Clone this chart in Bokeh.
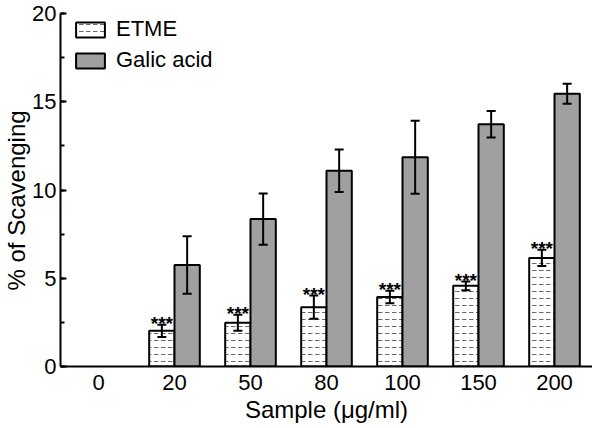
from bokeh.plotting import figure
from bokeh.models import (ColumnDataSource, FactorRange, Range1d, Whisker, TeeHead,
                          SingleIntervalTicker, Title)
from bokeh.transform import dodge
from bokeh.core.properties import value
from bokeh.embed import file_html
from bokeh.resources import INLINE

# ---- data ----
all_factors = ["0", "20", "50", "80", "100", "150", "200"]
categories = ["20", "50", "80", "100", "150", "200"]
etme = [2.02, 2.48, 3.36, 3.94, 4.57, 6.15]
etme_err = [0.35, 0.45, 0.66, 0.35, 0.25, 0.46]
galic = [5.75, 8.35, 11.09, 11.86, 13.73, 15.45]
galic_err = [1.63, 1.45, 1.20, 2.07, 0.75, 0.57]
stars = ["***"] * len(categories)

src = ColumnDataSource(dict(
    cat=categories,
    etme=etme,
    etme_lo=[v - e for v, e in zip(etme, etme_err)],
    etme_up=[v + e for v, e in zip(etme, etme_err)],
    galic=galic,
    galic_lo=[v - e for v, e in zip(galic, galic_err)],
    galic_up=[v + e for v, e in zip(galic, galic_err)],
    stars=stars,
))

FONT = "Liberation Sans"
BW = 0.333
OFF = BW / 2

p = figure(width=592, height=425, output_backend="svg", toolbar_location=None,
           x_range=FactorRange(*all_factors, range_padding=0),
           y_range=Range1d(0, 20),
           min_border_left=10, min_border_right=0, min_border_top=13, min_border_bottom=54)
p.outline_line_color = None
p.xgrid.grid_line_color = None
p.ygrid.grid_line_color = None
p.background_fill_color = "white"
p.border_fill_color = "white"

r1 = p.vbar(x=dodge("cat", -OFF, range=p.x_range), top="etme", width=BW, source=src,
            fill_color="white", line_color="black", line_width=2,
            hatch_pattern="horizontal_dash", hatch_color="#6a6a6a", hatch_scale=7,
            hatch_weight=1, legend_label="ETME")
r2 = p.vbar(x=dodge("cat", OFF, range=p.x_range), top="galic", width=BW, source=src,
            fill_color="#a0a0a0", line_color="black", line_width=2,
            legend_label="Galic acid")

for base, lo, up in [(dodge("cat", -OFF, range=p.x_range), "etme_lo", "etme_up"),
                     (dodge("cat", OFF, range=p.x_range), "galic_lo", "galic_up")]:
    w = Whisker(source=src, base=base, lower=lo, upper=up, level="overlay",
                line_color="black", line_width=2,
                upper_head=TeeHead(size=9, line_width=2, line_color="black"),
                lower_head=TeeHead(size=9, line_width=2, line_color="black"))
    p.add_layout(w)

p.text(x=dodge("cat", -OFF, range=p.x_range), y="etme_up", text="stars", source=src,
       text_font=value(FONT), text_font_style="bold", text_font_size="19px",
       text_align="center", text_baseline="alphabetic", y_offset=-1, text_color="black")

# axes
p.yaxis.ticker = SingleIntervalTicker(interval=5, num_minor_ticks=2)
p.yaxis.major_tick_in = 6
p.yaxis.major_tick_out = 0
p.yaxis.minor_tick_in = 4
p.yaxis.minor_tick_out = 0
p.yaxis.major_label_standoff = 4

p.xaxis.major_tick_in = 0
p.xaxis.major_tick_out = 0
p.xaxis.major_label_standoff = 8
p.xaxis.axis_label = "Sample (μg/ml)"
p.xaxis.axis_label_standoff = 3

for ax in (p.xaxis, p.yaxis):
    ax.axis_line_width = 2
    ax.axis_line_color = "black"
    ax.major_tick_line_width = 2
    ax.minor_tick_line_width = 2
    ax.major_label_text_font = FONT
    ax.major_label_text_font_size = "22px"
    ax.major_label_text_color = "black"
    ax.axis_label_text_font = FONT
    ax.axis_label_text_font_size = "24px"
    ax.axis_label_text_font_style = "normal"
    ax.axis_label_text_color = "black"

# y-axis title, sitting a little below the frame centre as in the reference
ytitle = Title(text="% of Scavenging", align="left", offset=76, standoff=0,
               text_font=FONT, text_font_size="24px", text_font_style="normal",
               text_color="black")
p.add_layout(ytitle, "left")

lg = p.legend[0]
lg.location = (12, 293)
lg.margin = 0
lg.padding = 0
lg.spacing = 5
lg.glyph_width = 36
lg.glyph_height = 19
lg.label_height = 19
lg.label_standoff = 8
lg.label_text_font = FONT
lg.label_text_font_size = "22px"
lg.label_text_color = "black"
lg.background_fill_alpha = 0
lg.border_line_color = None

open("out.html", "w").write(file_html(p, INLINE))
